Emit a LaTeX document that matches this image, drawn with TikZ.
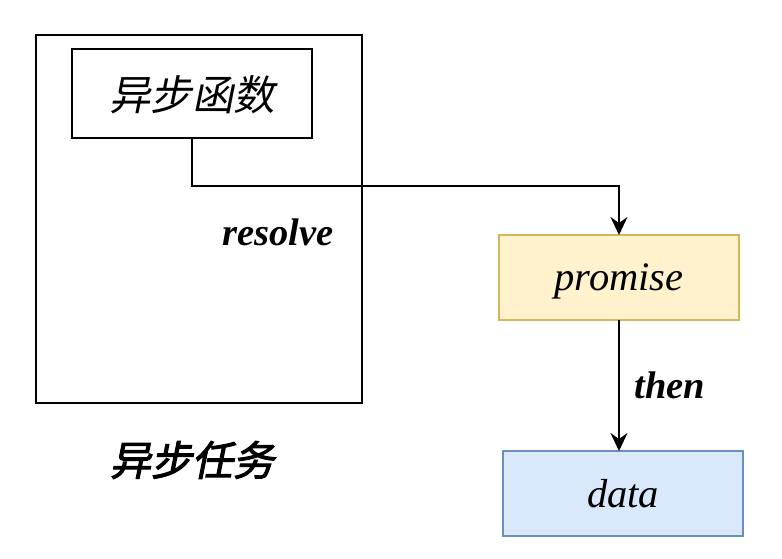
\documentclass[tikz,border=0pt]{standalone}
\usepackage{fontspec}
\setmainfont{Liberation Serif}
\newfontfamily\cjk{Noto Sans CJK SC}[FakeSlant=0.2]
\newfontfamily\cjkb{Noto Sans CJK SC}[FakeSlant=0.2,FakeBold=2.5]
\usetikzlibrary{arrows.meta}
\begin{document}
\begin{tikzpicture}[x=1pt,y=-1pt,
  box/.style={draw, line width=2pt, inner sep=0pt, outer sep=0pt},
  lbl/.style={font=\fontsize{38.5}{42}\selectfont\bfseries\itshape, inner sep=0pt},
  arr/.style={line width=2pt, -{Stealth[length=18pt,width=17pt,inset=6pt]}}]
\useasboundingbox (0,0) rectangle (782,558);
\node[box, minimum width=326pt, minimum height=368pt] (outer) at (199,219) {};
\node[box, minimum width=240pt, minimum height=89pt, text depth=0pt, font=\fontsize{41.5}{44}\selectfont\cjk] (inner) at (192,93.5) {异步函数};
\node[box, draw={rgb,255:red,214;green,182;blue,86}, fill={rgb,255:red,255;green,242;blue,204}, minimum width=240pt, minimum height=85pt, text depth=0pt, font=\fontsize{40.5}{43}\selectfont\itshape] (promise) at (619,277.5) {promise};
\node[box, draw={rgb,255:red,108;green,142;blue,191}, fill={rgb,255:red,218;green,232;blue,252}, minimum width=240pt, minimum height=85pt, font=\fontsize{40.5}{43}\selectfont\itshape] (data) at (623,493.5) {data};
\node[lbl] (resolve) at (278,232) {resolve};
\node[lbl] (then) at (670,385) {then};
\node[font=\fontsize{41}{44}\selectfont\cjkb, inner sep=0pt] (task) at (192,460) {异步任务};
\coordinate (bend) at (192,186);
\draw[arr] (inner.south) -- (bend) -| (promise.north);
\draw[arr] (promise.south) -- (promise.south |- data.north);
\end{tikzpicture}
\end{document}
